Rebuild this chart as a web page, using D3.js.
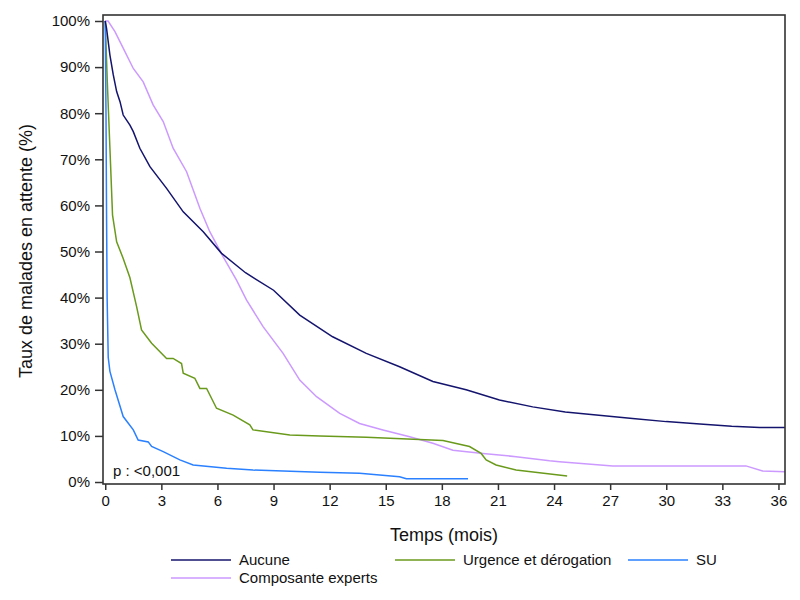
<!DOCTYPE html>
<html>
<head>
<meta charset="utf-8">
<script src="https://cdn.jsdelivr.net/npm/d3@7"></script>
<style>
  body { margin: 0; background: #fff; }
  svg text { font-family: "Liberation Sans", Arial, sans-serif; fill: #111; }
</style>
</head>
<body>
<svg id="chart" width="800" height="600"></svg>
<script>
// survival curves: month / percent still waiting
const aucuneT = [0, 0.07, 0.25, 0.43, 0.61, 0.79, 0.96, 1.32, 1.5, 1.85, 2.39, 3.28, 4.17, 5.24, 6.22, 7.5, 9, 10.4, 12.16, 13.96, 15.74, 17.52, 19.3, 21.08, 22.86, 24.6, 26.4, 28.2, 30, 31.8, 33.5, 35, 36.35];
const aucuneP = [100, 98.4, 92.6, 88.3, 84.7, 82.5, 79.6, 77.4, 76, 72.4, 68.4, 63.7, 58.6, 54.3, 49.6, 45.4, 41.6, 36.2, 31.5, 27.9, 25, 21.8, 20, 17.8, 16.3, 15.2, 14.5, 13.8, 13.1, 12.6, 12.1, 11.8, 11.8];

const urgenceT = [0, 0.11, 0.25, 0.39, 0.61, 0.96, 1.32, 1.68, 1.94, 2.48, 3.28, 3.63, 4.08, 4.17, 4.79, 5.06, 5.42, 5.95, 6.84, 7.73, 7.9, 9.87, 11.47, 13.96, 18.06, 19.48, 20.1, 20.37, 20.9, 21.97, 24.7];
const urgenceP = [100, 86.8, 72.4, 57.9, 52.1, 48.5, 44.3, 38, 33, 30.1, 26.8, 26.8, 25.7, 23.6, 22.5, 20.3, 20.3, 16, 14.5, 12.4, 11.3, 10.2, 10, 9.7, 9.0, 7.7, 6.2, 4.8, 3.7, 2.6, 1.3];

const suT = [0, 0.04, 0.07, 0.1, 0.16, 0.25, 0.52, 0.96, 1.5, 1.76, 2.3, 2.48, 3.1, 3.99, 4.7, 6.49, 7.9, 11.47, 13.6, 15.74, 16.1, 19.4];
const suP = [100, 80, 58, 40, 27, 24, 20, 14.2, 11.3, 9.1, 8.7, 7.7, 6.6, 4.8, 3.7, 3.0, 2.6, 2.1, 1.9, 1.15, 0.72, 0.72];

const expertsT = [0, 0.15, 0.52, 0.96, 1.5, 2.03, 2.56, 3.1, 3.63, 4.35, 5.06, 5.59, 6.3, 7.02, 7.55, 8.44, 9.51, 10.4, 11.3, 12.54, 13.6, 14.85, 16.28, 17.52, 18.59, 20.2, 21.97, 23.76, 24.29, 27.14, 34.26, 35.15, 36.35];
const expertsP = [100, 100, 97.7, 94.1, 89.7, 86.8, 81.8, 78.2, 72.4, 67.3, 59.4, 54.3, 48.9, 43.8, 39.5, 33.7, 27.9, 22.1, 18.5, 14.9, 12.7, 11.3, 9.8, 8.4, 6.9, 6.2, 5.5, 4.6, 4.4, 3.5, 3.5, 2.4, 2.2];

const seriesNames = ['Aucune', 'Urgence et dérogation', 'SU', 'Composante experts'];
const seriesColors = ['#14146e', '#6a9a1c', '#2a80ff', '#cc99ff'];
const xTicks = [0, 3, 6, 9, 12, 15, 18, 21, 24, 27, 30, 33, 36];
const yTicks = [0, 10, 20, 30, 40, 50, 60, 70, 80, 90, 100];

const series = [
  { name: seriesNames[0], color: seriesColors[0], t: aucuneT, p: aucuneP },
  { name: seriesNames[1], color: seriesColors[1], t: urgenceT, p: urgenceP },
  { name: seriesNames[2], color: seriesColors[2], t: suT, p: suP },
  { name: seriesNames[3], color: seriesColors[3], t: expertsT, p: expertsP }
];

const svg = d3.select('#chart');
const plotLeft = 103, plotRight = 785, plotTop = 15, plotBottom = 484;

const x = d3.scaleLinear().domain([-0.12, 36.35]).range([plotLeft, plotRight]);
const y = d3.scaleLinear().domain([-0.43, 101.3]).range([plotBottom, plotTop]);

svg.append('defs').append('clipPath').attr('id', 'plot')
  .append('rect').attr('x', plotLeft).attr('y', plotTop)
  .attr('width', plotRight - plotLeft).attr('height', plotBottom - plotTop);

const line = d3.line().x(d => x(d[0])).y(d => y(d[1]));

const plot = svg.append('g').attr('clip-path', 'url(#plot)');
// draw order so the navy curve sits on top like in the original
[3, 1, 2, 0].forEach(i => {
  const s = series[i];
  plot.append('path')
    .datum(s.t.map((t, j) => [t, s.p[j]]))
    .attr('fill', 'none')
    .attr('stroke', s.color)
    .attr('stroke-width', 1.5)
    .attr('d', line);
});

// frame
svg.append('rect')
  .attr('x', plotLeft).attr('y', plotTop)
  .attr('width', plotRight - plotLeft).attr('height', plotBottom - plotTop)
  .attr('fill', 'none').attr('stroke', '#333').attr('stroke-width', 1.6);

const xAxis = svg.append('g').attr('transform', `translate(0,${plotBottom})`)
  .call(d3.axisBottom(x).tickValues(xTicks).tickSize(6).tickPadding(5).tickFormat(d3.format('d')));
const yAxis = svg.append('g').attr('transform', `translate(${plotLeft},0)`)
  .call(d3.axisLeft(y).tickValues(yTicks).tickSize(8).tickPadding(5).tickFormat(d => d + '%'));

[xAxis, yAxis].forEach(a => {
  a.select('.domain').remove();
  a.selectAll('.tick line').attr('stroke', '#333').attr('stroke-width', 1.5);
  a.selectAll('.tick text').attr('font-size', 15).attr('fill', '#111')
    .style('font-family', '"Liberation Sans", Arial, sans-serif');
});

svg.append('text')
  .attr('x', 444).attr('y', 541)
  .attr('text-anchor', 'middle')
  .attr('font-size', 18)
  .text('Temps (mois)');

svg.append('text')
  .attr('transform', 'translate(32,251) rotate(-90)')
  .attr('text-anchor', 'middle')
  .attr('font-size', 18)
  .text('Taux de malades en attente (%)');

svg.append('text')
  .attr('x', 113).attr('y', 476)
  .attr('font-size', 15)
  .text('p : <0,001');

// legend
const legendPos = [[171, 560], [395, 560], [628, 560], [171, 578]];
series.forEach((s, i) => {
  const [lx, ly] = legendPos[i];
  svg.append('line')
    .attr('x1', lx).attr('x2', lx + 60)
    .attr('y1', ly).attr('y2', ly)
    .attr('stroke', s.color).attr('stroke-width', 1.5);
  svg.append('text')
    .attr('x', lx + 68).attr('y', ly + 5)
    .attr('font-size', 15)
    .text(s.name);
});
</script>
</body>
</html>
